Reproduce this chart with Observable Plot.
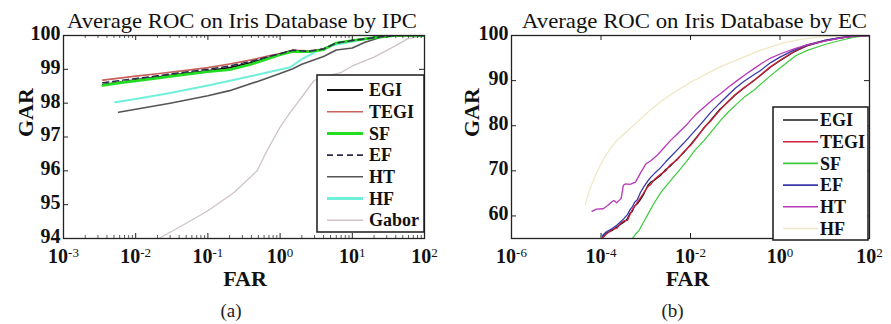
<!DOCTYPE html>
<html><head><meta charset="utf-8">
<script src="https://cdn.jsdelivr.net/npm/d3@7"></script>
<script src="https://cdn.jsdelivr.net/npm/@observablehq/plot@0.6"></script>
<style>
body{margin:0;background:#fff;}
#wrap{position:relative;width:891px;height:324px;overflow:hidden;background:#fff;font-family:"Liberation Serif","DejaVu Serif",serif;}
#wrap > svg{position:absolute;top:0;}
</style></head><body><div id="wrap"></div>
<script>
// ---------------- Panel (a): IPC ----------------
const ipcTitle = "Average ROC on Iris Database by IPC";
const ipcSeries = ["EGI","TEGI","SF","EF","HT","HF","Gabor"];
const ipcColors = ["#111111","#c8605a","#22dd22","#2c2c4c","#555555","#70f0da","#cfc3c3"];
const ipcXTicks = [1e-3,1e-2,1e-1,1e0,1e1,1e2];
const ipcYTicks = [94,95,96,97,98,99,100];

const ipcClusterFAR = [0.0035,0.006,0.01,0.02,0.05,0.1,0.2,0.4,0.7,1,1.5,2.5,4,6,10,15,25,40,70,100];
const ipcTEGI = [98.68,98.74,98.8,98.87,98.97,99.05,99.16,99.28,99.4,99.47,99.56,99.55,99.6,99.78,99.85,99.9,99.96,100,100,100];
const ipcEF   = [98.6,98.67,98.73,98.81,98.92,99.0,99.1,99.24,99.38,99.46,99.56,99.53,99.6,99.78,99.85,99.9,99.96,100,100,100];
const ipcEGI  = [98.55,98.62,98.69,98.77,98.88,98.96,99.05,99.2,99.35,99.45,99.56,99.52,99.6,99.78,99.85,99.9,99.96,100,100,100];
const ipcSF   = [98.52,98.6,98.66,98.74,98.85,98.93,98.99,99.15,99.32,99.43,99.53,99.52,99.58,99.78,99.85,99.9,99.96,100,100,100];
const ipcHTFAR = [0.0058,0.01,0.03,0.1,0.2,0.5,1,1.5,2,4,6,10,15,25,40,100];
const ipcHT    = [97.73,97.82,98.0,98.22,98.37,98.65,98.88,99.02,99.15,99.38,99.57,99.63,99.8,99.95,100,100];
const ipcHFFAR = [0.0052,0.01,0.03,0.1,0.21,0.5,1.38,2,3,5,10,20,40,100];
const ipcHF    = [98.03,98.12,98.3,98.52,98.67,98.85,99.06,99.3,99.5,99.7,99.82,99.95,100,100];
const ipcGaborFAR = [0.021,0.05,0.1,0.23,0.48,0.66,1.0,1.35,1.7,2.95,4.4,6.9,10,20,40,58,100];
const ipcGabor    = [94.0,94.45,94.82,95.36,96.0,96.6,97.29,97.7,97.98,98.67,98.8,98.9,99.1,99.36,99.7,99.9,100];

// ---------------- Panel (b): EC ----------------
const ecTitle = "Average ROC on Iris Database by EC";
const ecSeries = ["EGI","TEGI","SF","EF","HT","HF"];
const ecColors = ["#1a1a1a","#d0203c","#3ccc3c","#3838a8","#b838b8","#f0e8c4"];
const ecXTicks = [1e-6,1e-4,1e-2,1e0,1e2];
const ecYTicks = [60,70,80,90,100];

const ecClusterFAR = [1.07e-4,1.32e-4,1.78e-4,2.29e-4,2.82e-4,3.24e-4,3.89e-4,4.47e-4,5.0e-4,5.6e-4,6.5e-4,7.6e-4,9.1e-4,1.12e-3,1.3e-3,1.6e-3,2.1e-3,2.8e-3,3.5e-3,5e-3,7e-3,0.01,0.014,0.02,0.028,0.045,0.066,0.1,0.155,0.25,0.36,0.62,1,2,4,10,22,50,100];
const ecEGI  = [55.3,56.2,56.8,57.6,58.2,58.6,59.4,60.6,61.0,62.2,62.7,63.6,64.9,66.8,67.5,68.0,68.9,70.3,71.0,72.6,74.0,75.8,77.6,79.5,81.2,83.6,85.1,86.8,88.3,89.9,91.1,93.0,94.4,96.3,97.7,98.8,99.4,99.9,100];
const ecTEGI = [55.0,56.0,57.0,57.3,58.5,58.9,59.0,60.3,61.4,62.0,63.0,64.0,65.2,66.5,67.0,68.2,69.2,70.0,71.3,72.4,74.2,75.6,77.4,79.6,81.0,83.4,85.2,86.9,88.4,89.8,91.2,93.1,94.5,96.4,97.8,98.9,99.5,99.9,100];
const ecEF   = [55.6,56.5,57.2,58.0,58.8,59.4,60.3,61.4,62.0,63.0,63.6,65.2,66.5,67.8,68.6,69.5,70.6,72.0,73.0,74.6,76.1,77.8,79.4,81.2,82.9,85.0,86.6,88.3,89.8,91.2,92.2,94.0,95.2,96.7,97.9,98.9,99.5,99.9,100];
const ecHTFAR = [6.3e-5,7.9e-5,1.12e-4,1.41e-4,1.78e-4,1.95e-4,2.24e-4,2.82e-4,3.16e-4,3.55e-4,4.47e-4,5.9e-4,7.6e-4,1e-3,1.32e-3,1.82e-3,2.5e-3,3.55e-3,5.6e-3,8.5e-3,0.0126,0.02,0.0316,0.0468,0.0708,0.11,0.166,0.257,0.4,0.617,1,2,4,9.5,22,50,100];
const ecHT    = [61.0,61.5,61.6,62.3,63.2,63.4,62.9,63.9,66.8,67.1,67.0,67.5,69.5,71.5,72.3,73.5,75.0,76.7,78.6,80.4,82.3,84.1,85.8,87.1,88.6,90.0,91.3,92.6,93.9,95.0,95.9,97.0,97.9,98.7,99.4,99.9,100];
const ecSFFAR = [5.0e-4,6.0e-4,7.1e-4,8.9e-4,1.12e-3,1.51e-3,2.24e-3,3.55e-3,5.6e-3,8.5e-3,0.0126,0.02,0.0316,0.0468,0.0708,0.11,0.166,0.257,0.4,0.617,1,2.24,4.07,10,22,40,71,100];
const ecSF    = [55.0,56.0,56.8,58.6,60.4,62.7,65.4,67.8,70.1,72.3,74.6,76.7,79.1,81.2,83.1,84.9,86.5,87.8,89.5,91.1,92.8,95.5,96.7,98.0,98.9,99.5,99.9,100];
const ecHFFAR = [4.47e-5,5.4e-5,7.9e-5,1.12e-4,1.62e-4,2.29e-4,3.55e-4,6.46e-4,1.26e-3,2.5e-3,5.0e-3,0.01,0.02,0.05,0.11,0.316,1.23,3.16,6.8,20,100];
const ecHF    = [62.5,65.5,69.5,72.5,75.0,76.8,78.5,80.8,83.5,85.8,87.8,89.6,91.2,93.2,94.6,96.5,98.4,99.2,99.6,99.9,100];

// ---------------- build tables ----------------
function rows(name, far, gar){ return far.map((f,i)=>({series:name, far:f, gar:gar[i]})); }
const ipcData = {
  EGI: rows("EGI", ipcClusterFAR, ipcEGI), TEGI: rows("TEGI", ipcClusterFAR, ipcTEGI),
  SF: rows("SF", ipcClusterFAR, ipcSF), EF: rows("EF", ipcClusterFAR, ipcEF),
  HT: rows("HT", ipcHTFAR, ipcHT), HF: rows("HF", ipcHFFAR, ipcHF), Gabor: rows("Gabor", ipcGaborFAR, ipcGabor)
};
const ecData = {
  EGI: rows("EGI", ecClusterFAR, ecEGI), TEGI: rows("TEGI", ecClusterFAR, ecTEGI),
  SF: rows("SF", ecSFFAR, ecSF), EF: rows("EF", ecClusterFAR, ecEF),
  HT: rows("HT", ecHTFAR, ecHT), HF: rows("HF", ecHFFAR, ecHF)
};

const FONT = '"Liberation Serif", "DejaVu Serif", serif';
const wrap = document.getElementById("wrap");

function panel(cfg){
  const W = cfg.width, H = 324, mt = 35, mb = 86;
  const frameW = W - cfg.ml - cfg.mr, frameH = H - mt - mb;
  const minor = [];
  if (cfg.minor) for (const t of cfg.xTicks.slice(0,-1)) for (let k=2;k<10;k++) minor.push(t*k);
  const colorOf = Object.fromEntries(cfg.series.map((s,i)=>[s,cfg.colors[i]]));
  const lineMarks = cfg.order.map(name => Plot.line(cfg.data[name], {
    x:"far", y:"gar", stroke: colorOf[name], strokeWidth: cfg.widths[name],
    strokeDasharray: cfg.dash[name] || null, clip: true
  }));
  const p = Plot.plot({
    width: W, height: H, marginLeft: cfg.ml, marginRight: cfg.mr, marginTop: mt, marginBottom: mb,
    x: {type:"log", domain: cfg.xDomain},
    y: {domain: cfg.yDomain},
    style: {fontFamily: FONT, background:"transparent", color:"#111", overflow:"visible"},
    marks: [
      ...lineMarks,
      Plot.tickX(cfg.xTicks, {x: d=>d, insetTop: frameH-5, stroke:"#222"}),
      Plot.tickX(cfg.xTicks, {x: d=>d, insetBottom: frameH-5, stroke:"#222"}),
      Plot.tickX(minor, {x: d=>d, insetTop: frameH-3, stroke:"#333", strokeWidth:0.8}),
      Plot.tickX(minor, {x: d=>d, insetBottom: frameH-3, stroke:"#333", strokeWidth:0.8}),
      Plot.tickY(cfg.yTicks, {y: d=>d, insetRight: frameW-5, stroke:"#222"}),
      Plot.tickY(cfg.yTicks, {y: d=>d, insetLeft: frameW-5, stroke:"#222"}),
      Plot.frame({stroke:"#222", strokeWidth:1.3}),
      Plot.axisX({ticks: cfg.xTicks, tickSize: 0, tickPadding: 10, fontSize: 20, fontWeight: "bold", label: null,
        tickFormat: d => "10^" + Math.round(Math.log10(d))}),
      Plot.axisY({ticks: cfg.yTicks, tickSize: 0, tickPadding: 3, fontSize: 20, fontWeight: "bold", dy: -2, label: null,
        tickFormat: d => String(d)}),
      Plot.text([cfg.title], {text: d=>d, frameAnchor:"top", dx: cfg.titleDx, dy: -8, lineAnchor:"bottom", fontSize: 21, fill:"#111"}),
      Plot.text(["FAR"], {text: d=>d, frameAnchor:"bottom", dx: cfg.farDx, dy: 47, lineAnchor:"bottom", fontSize: 22, fontWeight:"bold", fill:"#111"}),
      Plot.text(["GAR"], {text: d=>d, frameAnchor:"left", dx: cfg.garDx, rotate: -90, lineAnchor:"middle", fontSize: 22, fontWeight:"bold", fill:"#111"}),
      Plot.text([cfg.caption], {text: d=>d, frameAnchor:"bottom", dx: cfg.capDx, dy: 78, lineAnchor:"bottom", fontSize: 19, fill:"#222"})
    ]
  });
  p.style.left = cfg.left + "px";
  d3.select(p).selectAll('g[aria-label="x-axis tick label"] text').each(function(){
    const t = d3.select(this);
    const s = t.text();
    if (!s.includes("^")) return;
    const [base, exp] = s.split("^");
    t.text(null);
    t.append("tspan").text(base);
    t.append("tspan").attr("dy","-0.45em").attr("font-size","13px").attr("font-weight","normal").text(exp);
  });
  // stretch the title to the reference's width
  d3.select(p).selectAll("text").filter(function(){ return this.textContent === cfg.title; })
    .attr("textLength", cfg.titleLen).attr("lengthAdjust", "spacingAndGlyphs");
  wrap.appendChild(p);

  const L = cfg.legend;
  const svg = d3.select(wrap).append("svg")
    .attr("width", L.w + 2).attr("height", L.h + 2)
    .style("left", (cfg.left + L.x - 1) + "px").style("top", (L.y - 1) + "px")
    .style("position","absolute").style("overflow","visible");
  svg.append("rect").attr("x",1).attr("y",1).attr("width",L.w).attr("height",L.h)
    .attr("fill","#fff").attr("stroke","#1a1a1a").attr("stroke-width",1.5);
  cfg.series.forEach((s,i)=>{
    const yy = 1 + L.row0 + i*L.gap;
    svg.append("line").attr("x1",1+L.lx0).attr("x2",1+L.lx1).attr("y1",yy).attr("y2",yy)
      .attr("stroke", colorOf[s]).attr("stroke-width", cfg.legendWidths[s])
      .attr("stroke-dasharray", cfg.dash[s] || null);
    svg.append("text").attr("x",1+L.tx).attr("y",yy).attr("dy","0.34em")
      .attr("font-family", FONT).attr("font-weight","bold").attr("font-size", L.fs).attr("fill","#111").text(s);
  });
}

panel({
  left: 0, width: 450, ml: 63, mr: 26,
  xDomain: [1e-3,1e2], yDomain: [94,100], xTicks: ipcXTicks, yTicks: ipcYTicks, minor: true,
  series: ipcSeries, colors: ipcColors, data: ipcData,
  order: ["Gabor","HT","HF","TEGI","EGI","SF","EF"],
  widths: {EGI:1.6,TEGI:1.6,SF:2.6,EF:1.5,HT:1.6,HF:2.0,Gabor:1.3},
  legendWidths: {EGI:2.2,TEGI:1.6,SF:3,EF:1.8,HT:1.6,HF:3,Gabor:1.6},
  dash: {EF:"6,4"},
  title: ipcTitle, titleLen: 350, titleDx: -2, farDx: 1, garDx: -38, caption: "(a)", capDx: -13,
  legend: {x: 317, y: 75, w: 107, h: 157, row0: 15, gap: 21.7, lx0: 10, lx1: 46, tx: 52, fs: 18}
});
panel({
  left: 450, width: 441, ml: 61, mr: 22,
  xDomain: [1e-6,1e2], yDomain: [55,100], xTicks: ecXTicks, yTicks: ecYTicks, minor: false,
  series: ecSeries, colors: ecColors, data: ecData,
  order: ["HF","SF","EGI","TEGI","EF","HT"],
  widths: {EGI:1.3,TEGI:1.3,SF:1.2,EF:1.3,HT:1.3,HF:1.3},
  legendWidths: {EGI:1.6,TEGI:1.6,SF:1.6,EF:1.6,HT:1.6,HF:1.6},
  dash: {},
  title: ecTitle, titleLen: 345, titleDx: 4, farDx: -3, garDx: -40, caption: "(b)", capDx: -18,
  legend: {x: 323, y: 107, w: 95, h: 133, row0: 13, gap: 21.7, lx0: 10, lx1: 45, tx: 47, fs: 18}
});
</script></body></html>
